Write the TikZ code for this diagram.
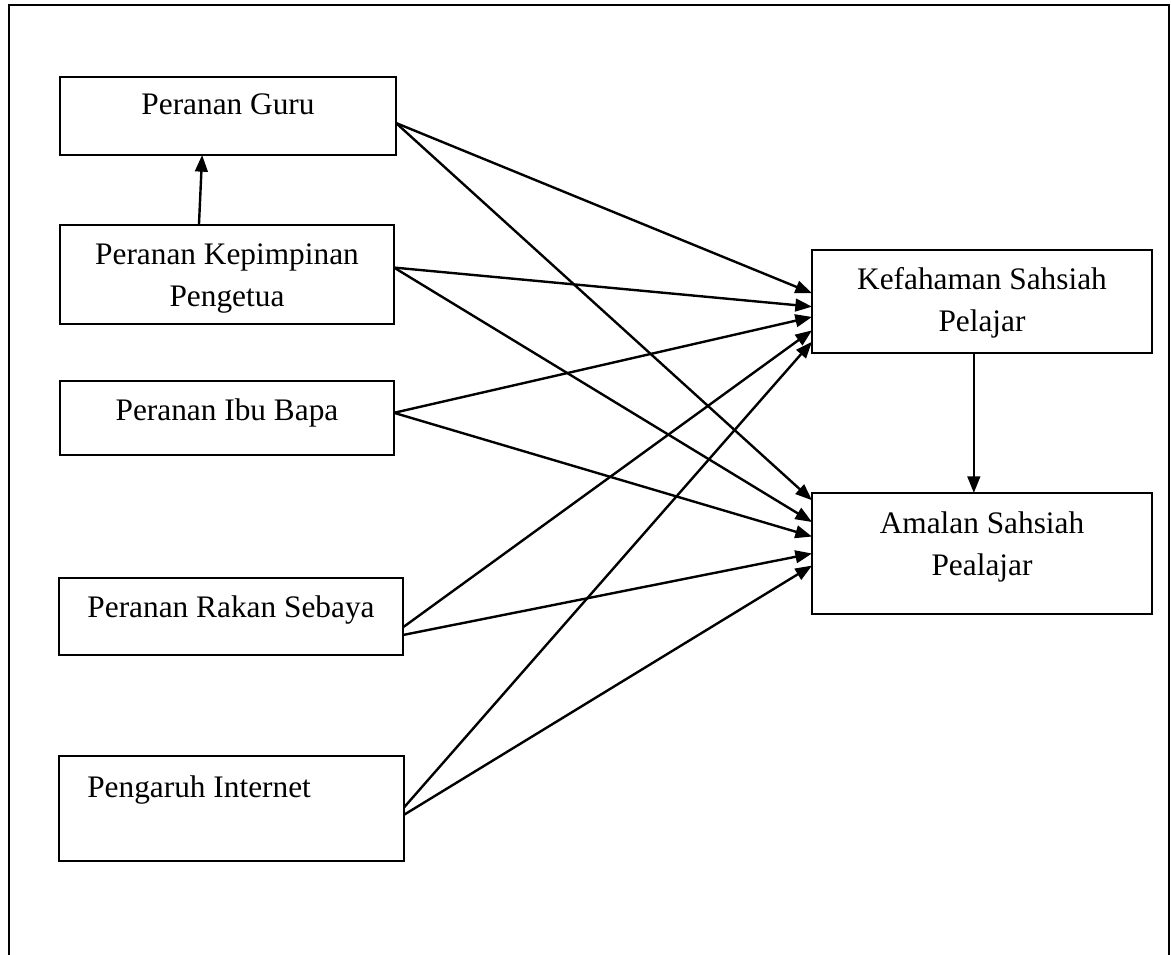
\documentclass[tikz,border=0pt]{standalone}
\usepackage{fontspec}
\setmainfont{Liberation Serif}
\usetikzlibrary{calc,arrows.meta}

\tikzset{
  varbox/.style={draw, rectangle, line width=1.8pt, outer sep=0pt, inner sep=0pt},
  vartext/.style={font=\fontsize{23.5}{31.5}\selectfont, inner sep=0pt, align=center},
  link/.style={-{Triangle[length=12.5pt,width=9.5pt]}, line width=1.8pt}
}

\begin{document}
\begin{tikzpicture}[x=0.75pt, y=-0.75pt]
\useasboundingbox (0,0) rectangle (1171,955);

% outer frame, open at the bottom
\draw[line width=1.8pt] (9,955) -- (9,5) -- (1169,5) -- (1169,955);

% factors
\node[varbox, minimum width=252pt, minimum height=58.5pt] (guru) at (228,116) {};
\node[varbox, minimum width=250.5pt, minimum height=74.25pt] (kep) at (227,274.5) {};
\node[varbox, minimum width=250.5pt, minimum height=55.5pt] (ibu) at (227,418) {};
\node[varbox, minimum width=258pt, minimum height=57.75pt] (rakan) at (231,616.5) {};
\node[varbox, minimum width=258.75pt, minimum height=78.75pt] (inet) at (231.5,808.5) {};

% outcomes
\node[varbox, minimum width=255pt, minimum height=77.25pt] (kef) at (982,301.5) {};
\node[varbox, minimum width=255pt, minimum height=90.75pt] (amal) at (982,553.5) {};

% labels (base = last line)
\node[vartext, anchor=base] (guru-t) at (228,115) {Peranan Guru};
\node[vartext, anchor=base] (kep-t) at (227,307) {Peranan Kepimpinan\\Pengetua};
\node[vartext, anchor=base] (ibu-t) at (227,421) {Peranan Ibu Bapa};
\node[vartext, anchor=base] (rakan-t) at (231,617) {Peranan Rakan Sebaya};
\node[vartext, anchor=base west] (inet-t) at (87,797) {Pengaruh Internet};
\node[vartext, anchor=base] (kef-t) at (982,332) {Kefahaman Sahsiah\\Pelajar};
\node[vartext, anchor=base] (amal-t) at (982,575) {Amalan Sahsiah\\Pealajar};

\draw[link] ($(kep.north west)!0.416!(kep.north east)$) -- ($(guru.south west)!0.423!(guru.south east)$);
\draw[link] ($(kef.south west)!0.476!(kef.south east)$) -- ($(amal.north west)!0.476!(amal.north east)$);

% to Kefahaman
\draw[link] ($(guru.north east)!0.59!(guru.south east)$) -- ($(kef.north west)!0.42!(kef.south west)$);
\draw[link] ($(kep.north east)!0.43!(kep.south east)$) -- ($(kef.north west)!0.55!(kef.south west)$);
\draw[link] ($(ibu.north east)!0.43!(ibu.south east)$) -- ($(kef.north west)!0.65!(kef.south west)$);
\draw[link] ($(rakan.north east)!0.64!(rakan.south east)$) -- ($(kef.north west)!0.78!(kef.south west)$);
\draw[link] ($(inet.north east)!0.49!(inet.south east)$) -- ($(kef.north west)!0.89!(kef.south west)$);

% to Amalan
\draw[link] ($(guru.north east)!0.59!(guru.south east)$) -- ($(amal.north west)!0.06!(amal.south west)$);
\draw[link] ($(kep.north east)!0.43!(kep.south east)$) -- ($(amal.north west)!0.24!(amal.south west)$);
\draw[link] ($(ibu.north east)!0.43!(ibu.south east)$) -- ($(amal.north west)!0.36!(amal.south west)$);
\draw[link] ($(rakan.north east)!0.74!(rakan.south east)$) -- ($(amal.north west)!0.50!(amal.south west)$);
\draw[link] ($(inet.north east)!0.56!(inet.south east)$) -- ($(amal.north west)!0.60!(amal.south west)$);

\end{tikzpicture}
\end{document}
